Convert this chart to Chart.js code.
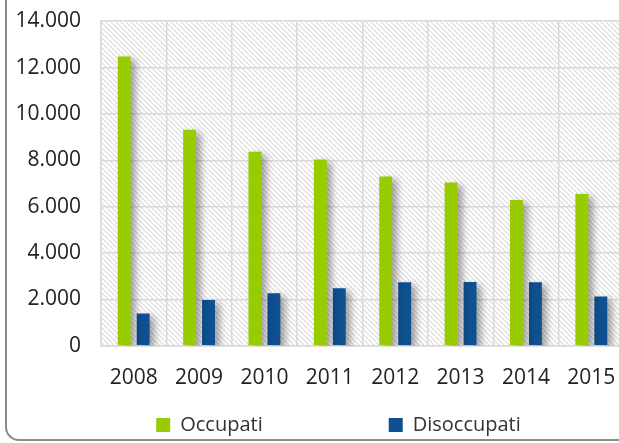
<!DOCTYPE html>
<html>
<head>
<meta charset="utf-8">
<script src="https://cdn.jsdelivr.net/npm/chart.js@4"></script>
<style>
  html, body { margin: 0; padding: 0; background: #fff; overflow: hidden; width: 619px; height: 443px; }
  #wrap { position: absolute; left: 0; top: -34px; width: 680px; height: 480px; }
  #frame {
    position: absolute; left: 5px; top: -20px; width: 800px; height: 459px;
    border-left: 2px solid #8c8c8c; border-bottom: 2px solid #8c8c8c;
    border-bottom-left-radius: 14px; pointer-events: none;
  }
</style>
</head>
<body>
<div id="wrap"><canvas id="myChart" width="680" height="480"></canvas></div>
<div id="frame"></div>
<script>
// data
const years = ['2008', '2009', '2010', '2011', '2012', '2013', '2014', '2015'];
const occupati = [12480, 9320, 8370, 8030, 7300, 7040, 6290, 6550];
const disoccupati = [1390, 1980, 2270, 2480, 2740, 2750, 2740, 2130];
const yTicks = [0, 2000, 4000, 6000, 8000, 10000, 12000, 14000];

function fmt(v) {
    return String(v).replace(/\B(?=(\d{3})+(?!\d))/g, '.');
}

// hatched background tile
function hatch() {
    const c = document.createElement('canvas');
    c.width = 5; c.height = 5;
    const g = c.getContext('2d');
    g.fillStyle = '#fff';
    g.fillRect(0, 0, 5, 5);
    g.strokeStyle = '#dcdcdc';
    g.lineWidth = 1.2;
    g.beginPath();
    g.moveTo(-1, -1); g.lineTo(6, 6);
    g.moveTo(-1, 4); g.lineTo(1, 6);
    g.moveTo(4, -1); g.lineTo(6, 1);
    g.stroke();
    return g.createPattern(c, 'repeat');
}

const plotBackground = {
    id: 'plotBackground',
    beforeDraw(chart) {
        const a = chart.chartArea, ctx = chart.ctx;
        ctx.save();
        ctx.fillStyle = hatch();
        ctx.fillRect(a.left, a.top, a.right - a.left, a.bottom - a.top);
        ctx.restore();
    }
};

const barShadow = {
    id: 'barShadow',
    beforeDatasetsDraw(chart) {
        const ctx = chart.ctx;
        ctx.save();
        ctx.shadowColor = 'rgba(0,0,0,0.35)';
        ctx.shadowBlur = 7;
        ctx.shadowOffsetX = 5;
        ctx.shadowOffsetY = 3;
    },
    afterDatasetsDraw(chart) {
        chart.ctx.restore();
    }
};

// keep the wide gap between legend items without pushing the plot up:
// only the top of the legend box moves, so its clip still holds the items
const liftLegend = {
    id: 'liftLegend',
    afterLayout(chart) {
        const lg = chart.legend;
        lg.top -= lg.options.labels.padding - 4;
    }
};

const ctx = document.getElementById('myChart').getContext('2d');

new Chart(ctx, {
    type: 'bar',
    data: {
        labels: years,
        datasets: [{
            label: 'Occupati',
            data: occupati,
            backgroundColor: '#99cc00',
            borderWidth: 0
        }, {
            label: 'Disoccupati',
            data: disoccupati,
            backgroundColor: '#0e5090',
            borderWidth: 0
        }]
    },
    options: {
        responsive: false,
        animation: false,
        categoryPercentage: 0.58,
        barPercentage: 0.68,
        layout: { padding: { left: 15, right: 18, top: 0, bottom: 0 } },
        plugins: {
            title: {
                display: true,
                text: 'Occupati e disoccupati (000)',
                color: '#333',
                font: { family: 'Open Sans', size: 26, weight: 'bold' },
                padding: { top: 4, bottom: 20 }
            },
            legend: {
                position: 'bottom',
                maxHeight: 35,
                labels: {
                    color: '#333',
                    font: { family: 'Open Sans', size: 20 },
                    boxWidth: 14,
                    boxHeight: 14,
                    padding: 126
                }
            },
            tooltip: { enabled: false }
        },
        scales: {
            x: {
                grid: { color: '#d9d9d9', lineWidth: 1.5, drawTicks: false },
                border: { color: '#d9d9d9', width: 1.5 },
                ticks: {
                    color: '#222',
                    font: { family: 'Open Sans', size: 21 },
                    padding: 20
                }
            },
            y: {
                min: 0,
                max: 14000,
                afterBuildTicks(scale) {
                    scale.ticks = yTicks.map(v => ({ value: v }));
                },
                afterFit(scale) {
                    scale.width = 86;
                },
                grid: { color: '#d9d9d9', lineWidth: 1.5, drawTicks: false },
                border: { color: '#d9d9d9', width: 1.5 },
                ticks: {
                    color: '#222',
                    font: { family: 'Open Sans', size: 21 },
                    padding: 20,
                    callback: v => fmt(v)
                }
            },
            // empty right-hand strip: the plot runs past the picture's edge
            yRight: {
                position: 'right',
                display: true,
                grid: { display: false },
                border: { display: false },
                ticks: { display: false },
                afterFit(scale) {
                    scale.width = 38;
                }
            }
        }
    },
    plugins: [plotBackground, barShadow, liftLegend]
});
</script>
</body>
</html>
